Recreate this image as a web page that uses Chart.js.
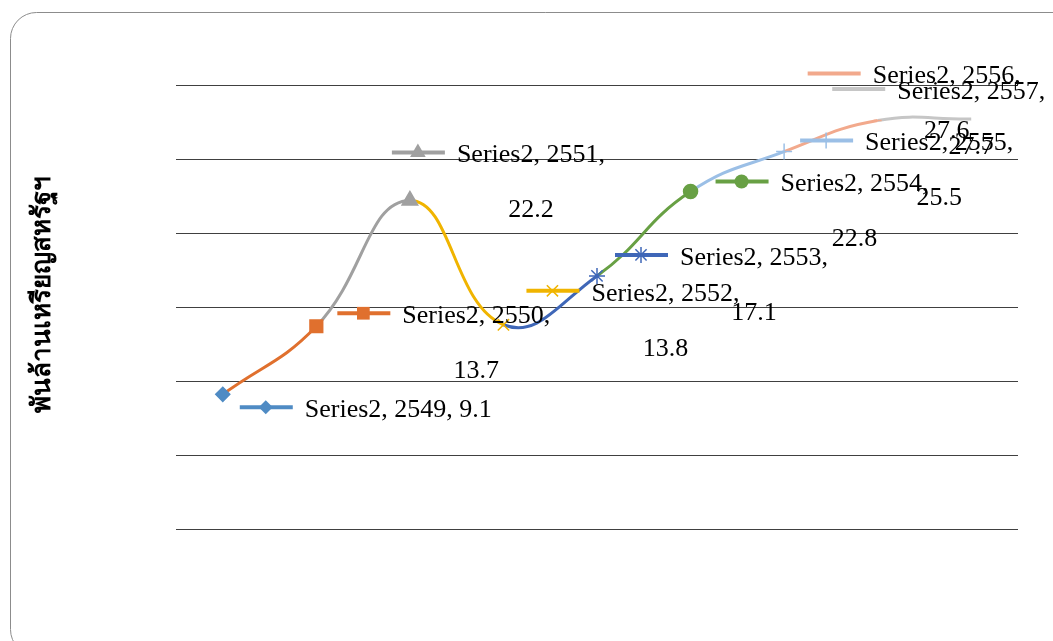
<!DOCTYPE html>
<html>
<head>
<meta charset="utf-8">
<script src="https://cdn.jsdelivr.net/npm/chart.js@4/dist/chart.umd.min.js"></script>
<style>
  body { margin: 0; background: #fff; }
  canvas { display: block; }
</style>
</head>
<body>
<canvas id="chart" width="1053" height="641"></canvas>
<script>
// data
const seriesName = "Series2";
const years = ["2549", "2550", "2551", "2552", "2553", "2554", "2555", "2556", "2557"];
const values = [9.1, 13.7, 22.2, 13.8, 17.1, 22.8, 25.5, 27.6, 27.7];
const yTicks = [0, 5, 10, 15, 20, 25, 30];
const yTitle = "พันล้านเหรียญสหรัฐฯ";

// styles per point
const colors = ["#4F8BC4", "#E0702E", "#A0A0A0", "#F0B400", "#3F67B8", "#68A044", "#9BBFE6", "#F2A98C", "#C6C6C6"];
const markers = ["rectRot", "rect", "triangle", "crossRot", "star", "circle", "cross", "line", false];
const markerSize = [7, 9, 9, 8, 8, 7, 8, 4, 0];
// label key offset from the point (dx, dy), and whether the value wraps
const labelOffsets = [[17, 13], [21, -13], [-18, -48], [23, -34], [18, -21], [25, -10], [16, -11], [-70, -47], [-139, -30]];
const wrapValue = [false, true, true, true, true, true, true, true, true];

function drawMarker(ctx, style, x, y, r, color) {
    if (!style || r <= 0) return;
    ctx.save();
    ctx.fillStyle = color;
    ctx.strokeStyle = color;
    ctx.lineWidth = 1.5;
    ctx.beginPath();
    if (style === "rectRot") {
        ctx.moveTo(x, y - r); ctx.lineTo(x + r, y); ctx.lineTo(x, y + r); ctx.lineTo(x - r, y);
        ctx.closePath(); ctx.fill();
    } else if (style === "rect") {
        const s = r * Math.SQRT1_2;
        ctx.rect(x - s, y - s, 2 * s, 2 * s); ctx.fill();
    } else if (style === "triangle") {
        ctx.moveTo(x, y - r); ctx.lineTo(x + r * 0.87, y + r * 0.5); ctx.lineTo(x - r * 0.87, y + r * 0.5);
        ctx.closePath(); ctx.fill();
    } else if (style === "circle") {
        ctx.arc(x, y, r, 0, Math.PI * 2); ctx.fill();
    } else if (style === "cross" || style === "crossRot" || style === "star") {
        const d = r * 0.7;
        if (style !== "crossRot") { ctx.moveTo(x, y - r); ctx.lineTo(x, y + r); ctx.moveTo(x - r, y); ctx.lineTo(x + r, y); }
        if (style !== "cross") { ctx.moveTo(x - d, y - d); ctx.lineTo(x + d, y + d); ctx.moveTo(x - d, y + d); ctx.lineTo(x + d, y - d); }
        ctx.stroke();
    } else if (style === "line") {
        ctx.lineWidth = 3;
        ctx.moveTo(x - r, y); ctx.lineTo(x + r, y); ctx.stroke();
    }
    ctx.restore();
}

const framePlugin = {
    id: "frame",
    beforeDraw(chart) {
        const ctx = chart.ctx;
        ctx.save();
        ctx.strokeStyle = "#8c8c8c";
        ctx.lineWidth = 1;
        ctx.beginPath();
        ctx.roundRect(10.5, 12.5, 1100, 643, 26);
        ctx.stroke();
        // axis title
        ctx.translate(43, 294);
        ctx.rotate(-Math.PI / 2);
        ctx.font = "bold 26px Tahoma, 'DejaVu Sans', sans-serif";
        ctx.fillStyle = "#000";
        ctx.textAlign = "center";
        ctx.textBaseline = "middle";
        ctx.fillText(yTitle, 0, 0);
        ctx.restore();
    }
};

const labelPlugin = {
    id: "pointLabels",
    afterDatasetsDraw(chart) {
        const ctx = chart.ctx;
        const pts = chart.getDatasetMeta(0).data;
        ctx.save();
        ctx.font = "26px 'Liberation Serif', 'Times New Roman', serif";
        ctx.fillStyle = "#000";
        ctx.textBaseline = "middle";
        pts.forEach((p, i) => {
            const kx = p.x + labelOffsets[i][0];
            const ky = p.y + labelOffsets[i][1];
            ctx.save();
            ctx.strokeStyle = colors[i];
            ctx.lineWidth = 4;
            ctx.beginPath();
            ctx.moveTo(kx, ky); ctx.lineTo(kx + 53, ky);
            ctx.stroke();
            ctx.restore();
            drawMarker(ctx, markers[i], kx + 26, ky, markerSize[i], colors[i]);
            const tx = kx + 65;
            const ty = ky + 3;
            ctx.textAlign = "left";
            if (wrapValue[i]) {
                const line1 = seriesName + ", " + years[i] + ",";
                ctx.fillText(line1, tx, ty);
                const w = ctx.measureText(line1).width;
                ctx.textAlign = "center";
                ctx.fillText(String(values[i]), tx + w / 2, ty + 55);
            } else {
                ctx.fillText(seriesName + ", " + years[i] + ", " + values[i], tx, ty);
            }
        });
        ctx.restore();
    }
};

new Chart(document.getElementById("chart").getContext("2d"), {
    type: "line",
    data: {
        labels: years,
        datasets: [{
            label: seriesName,
            data: values,
            borderWidth: 3,
            tension: 0.45,
            fill: false,
            pointStyle: markers.map(m => m || false),
            pointRadius: markerSize,
            pointBackgroundColor: colors,
            pointBorderColor: colors,
            pointBorderWidth: 1.5,
            segment: {
                borderColor: c => colors[c.p1DataIndex],
            },
        }]
    },
    options: {
        responsive: false,
        animation: false,
        layout: { padding: { top: 85, right: 35, left: 0, bottom: 0 } },
        plugins: { legend: { display: false }, tooltip: { enabled: false } },
        scales: {
            x: {
                offset: true,
                grid: { display: false },
                border: { display: false },
                ticks: { display: false },
                afterFit: s => { s.height = 112; },
            },
            y: {
                min: yTicks[0],
                max: yTicks[yTicks.length - 1],
                afterBuildTicks: s => { s.ticks = yTicks.map(v => ({ value: v })); },
                grid: { color: "#404040", lineWidth: 1, drawTicks: false },
                border: { display: false },
                ticks: { display: false },
                afterFit: s => { s.width = 176; },
            }
        }
    },
    plugins: [framePlugin, labelPlugin]
});
</script>
</body>
</html>
